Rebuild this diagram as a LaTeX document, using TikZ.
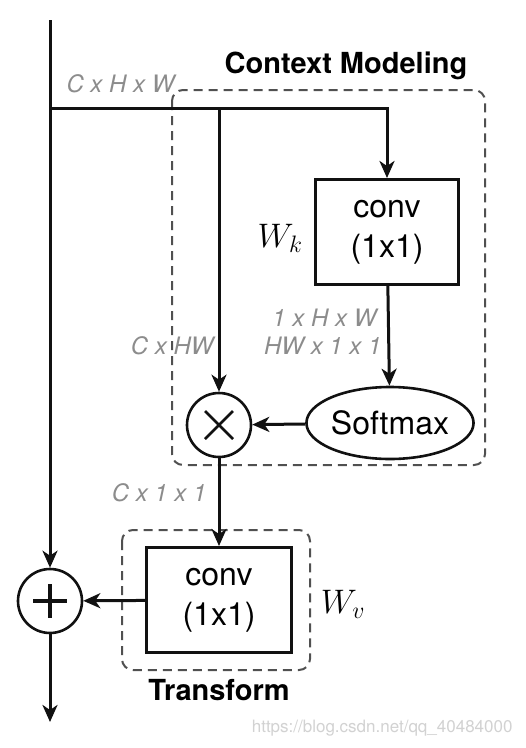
\RequirePackage{fix-cm}
\documentclass[tikz,border=0pt]{standalone}
\usepackage{fontspec}
\setmainfont{TeX Gyre Heros}
\usetikzlibrary{arrows.meta,positioning,shapes.geometric}
\definecolor{gcline}{HTML}{111111}
\definecolor{gcdash}{HTML}{505050}
\definecolor{gcgray}{HTML}{8C8C8C}
\definecolor{gcmark}{HTML}{D2D2D2}

\begin{document}
\begin{tikzpicture}[x=1pt, y=-1pt,
    line width=3pt, draw=gcline,
    arr/.style={-{Stealth[length=17pt, width=15pt, inset=5pt]}},
    convbox/.style={draw, rectangle, line width=3pt, minimum width=143, minimum height=105,
      align=center, font=\fontsize{32}{40}\selectfont},
    softbox/.style={draw, ellipse, line width=2.6pt, minimum width=154, minimum height=72,
      inner sep=0pt, font=\fontsize{32}{36}\selectfont},
    opcirc/.style={draw, circle, line width=2.6pt, minimum size=64, inner sep=0pt},
    groupbox/.style={draw=gcdash, line width=2pt, dash pattern=on 9pt off 6pt, rounded corners=11},
    dimlabel/.style={text=gcgray, inner sep=0pt, font=\fontsize{24}{30}\selectfont\itshape},
    grouplabel/.style={inner sep=0pt, font=\fontsize{29}{32}\selectfont\bfseries},
    weightlabel/.style={inner sep=0pt, font=\fontsize{34}{36}\selectfont}]

  % ---- Canvas ----
  \fill[white] (0,0) rectangle (526,748);
  \useasboundingbox (0,0) rectangle (526,748);

  % ---- Dashed groups ----
  \draw[groupbox] (172,90) rectangle (485,465);
  \draw[groupbox] (122,530) rectangle (310,670);

  % ---- Nodes ----
  \coordinate (input) at (50,20);
  \coordinate (split) at (50,108);
  \coordinate (branch) at (219,108);
  \node[convbox] (convk) at (387,232) {conv\\(1x1)};
  \node[softbox] (softmax) at (390,423) {Softmax};
  \node[opcirc] (mul) at (219,425) {};
  \node[convbox, minimum width=145] (convv) at (219,600) {conv\\(1x1)};
  \node[opcirc] (add) at (50,601) {};
  \coordinate (output) at (50,722);

  % operator symbols
  \draw[line width=2.6pt] ([shift={(-14,-14)}]mul.center) -- ([shift={(14,14)}]mul.center);
  \draw[line width=2.6pt] ([shift={(-14,14)}]mul.center) -- ([shift={(14,-14)}]mul.center);
  \draw[line width=3.4pt] ([shift={(-17,0)}]add.center) -- ([shift={(17,0)}]add.center);
  \draw[line width=3.4pt] ([shift={(0,-17)}]add.center) -- ([shift={(0,17)}]add.center);

  % ---- Connectors ----
  \draw[arr] (input) -- (add);
  \draw[arr] (split) -| (convk.north);
  \draw[arr] (branch) -- (mul);
  \draw[arr] (convk) -- (softmax);
  \draw[arr] (softmax) -- (mul);
  \draw[arr] (mul) -- (convv);
  \draw[arr] (convv) -- (add);
  \draw[arr] (add) -- (output);

  % ---- Labels ----
  \node[grouplabel] (ctxlabel) at (346,66) {Context Modeling};
  \node[grouplabel] (trlabel) at (219,690) {Transform};
  \node[dimlabel, anchor=east] (chw) at (176,84) {C x H x W};
  \node[dimlabel, anchor=east] (cflat) at (215,346) {C x HW};
  \node[dimlabel, anchor=east] (khw) at (378,318) {1 x H x W};
  \node[dimlabel, anchor=east] (kflat) at (383,346) {HW x 1 x 1};
  \node[dimlabel, anchor=east] (cvec) at (208,493) {C x 1 x 1};
  \node[weightlabel] (wk) at (280,238) {$W_k$};
  \node[weightlabel] (wv) at (343,604) {$W_v$};

  % watermark
  \node[text=gcmark, inner sep=0pt, font=\fontsize{17}{20}\selectfont, anchor=east] (mark) at (514,728)
    {https://blog.csdn.net/qq\_40484000};

\end{tikzpicture}
\end{document}
